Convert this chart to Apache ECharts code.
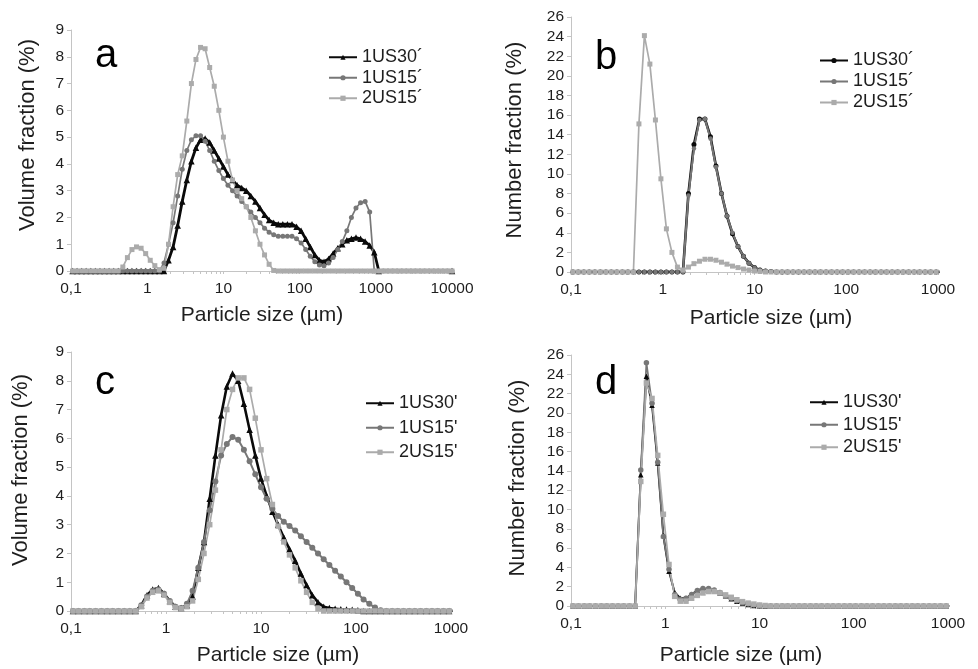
<!DOCTYPE html>
<html>
<head>
<meta charset="utf-8">
<script src="https://cdn.jsdelivr.net/npm/echarts@6/dist/echarts.min.js"></script>
<style>
  html, body { margin: 0; padding: 0; background: #fff; }
  #chart { width: 978px; height: 669px; }
</style>
</head>
<body>
<div id="chart"></div>
<script>
"use strict";

// particle size classes (µm), 0.06 decade steps
var sizes = [
  0.105, 0.120, 0.138, 0.158, 0.182, 0.209, 0.240, 0.275, 0.316, 0.363,
  0.417, 0.479, 0.550, 0.631, 0.724, 0.832, 0.955, 1.096, 1.259, 1.445,
  1.660, 1.905, 2.188, 2.512, 2.884, 3.311, 3.802, 4.365, 5.012, 5.754,
  6.607, 7.586, 8.710, 10.00, 11.48, 13.18, 15.14, 17.38, 19.95, 22.91,
  26.30, 30.20, 34.67, 39.81, 45.71, 52.48, 60.26, 69.18, 79.43, 91.20,
  104.7, 120.2, 138.0, 158.5, 182.0, 208.9, 239.9, 275.4, 316.2, 363.1,
  416.9, 478.6, 549.5, 631.0, 724.4, 831.8, 955.0, 1096, 1259, 1445,
  1660, 1905, 2188, 2512, 2884, 3311, 3802, 4365, 5012, 5754,
  6607, 7586, 8710, 10000
];

// panel a - volume fraction
var a30 = [
  0, 0, 0, 0, 0, 0, 0, 0, 0, 0,
  0, 0, 0, 0, 0, 0, 0, 0, 0, 0,
  0, 0.4, 0.9, 1.7, 2.6, 3.4, 4.1, 4.6, 4.9, 4.95,
  4.8, 4.5, 4.2, 3.9, 3.6, 3.4, 3.2, 3.1, 3.0, 2.8,
  2.6, 2.35, 2.1, 1.9, 1.8, 1.75, 1.75, 1.75, 1.75, 1.65,
  1.5, 1.2, 0.9, 0.6, 0.4, 0.35, 0.45, 0.65, 0.85, 1.0,
  1.15, 1.2, 1.25, 1.2, 1.1, 0.95, 0.7, 0, null, null,
  null, null, null, null, null, null, null, null, null, null,
  null, null, null, 0
];
var a15 = [
  0, 0, 0, 0, 0, 0, 0, 0, 0, 0,
  0, 0, 0, 0, 0, 0, 0, 0, 0, 0,
  0.3, 1.0, 1.8, 2.8, 3.8, 4.5, 4.9, 5.05, 5.05, 4.85,
  4.5, 4.1, 3.75, 3.45, 3.2, 3.0, 2.8, 2.6, 2.4, 2.2,
  2.0, 1.8, 1.6, 1.45, 1.35, 1.3, 1.3, 1.3, 1.3, 1.2,
  1.05, 0.8, 0.55, 0.35, 0.22, 0.2, 0.3, 0.5, 0.8, 1.1,
  1.5, 2.0, 2.35, 2.55, 2.6, 2.2, 0, 0, 0, 0,
  0, 0, 0, 0, 0, 0, 0, 0, 0, 0,
  0, 0, 0, 0
];
var a215 = [
  0, 0, 0, 0, 0, 0, 0, 0, 0, 0,
  0, 0.15, 0.5, 0.8, 0.9, 0.85, 0.65, 0.4, 0.2, 0.05,
  0.1, 1.0, 2.4, 3.6, 4.3, 5.6, 7.0, 7.9, 8.35, 8.3,
  7.6, 6.9, 6.0, 5.0, 4.1, 3.4, 3.0, 2.7, 2.4, 2.0,
  1.5, 1.0, 0.6, 0.25, 0.02, 0, 0, 0, 0, 0,
  0, 0, 0, 0, 0, 0, 0, 0, 0, 0,
  0, 0, 0, 0, 0, 0, 0, 0, 0, 0,
  0, 0, 0, 0, 0, 0, 0, 0, 0, 0,
  0, 0, 0, 0
];

// panel b - number fraction
var b30 = [
  0, 0, 0, 0, 0, 0, 0, 0, 0, 0,
  0, 0, 0, 0, 0, 0, 0, 0, 0, 0,
  0, 8.0, 13.0, 15.6, 15.6, 13.8, 10.8, 8.0, 5.7, 3.9,
  2.6, 1.6, 0.9, 0.45, 0.2, 0.1, 0.05, 0, 0, 0,
  0, 0, 0, 0, 0, 0, 0, 0, 0, 0,
  0, 0, 0, 0, 0, 0, 0, 0, 0, 0,
  0, 0, 0, 0, 0, 0, 0, 0
];
var b15 = [
  0, 0, 0, 0, 0, 0, 0, 0, 0, 0,
  0, 0, 0, 0, 0, 0, 0, 0, 0, 0,
  0, 7.8, 12.6, 15.5, 15.6, 13.6, 10.7, 8.0, 5.7, 4.0,
  2.6, 1.6, 0.9, 0.45, 0.2, 0.1, 0.05, 0, 0, 0,
  0, 0, 0, 0, 0, 0, 0, 0, 0, 0,
  0, 0, 0, 0, 0, 0, 0, 0, 0, 0,
  0, 0, 0, 0, 0, 0, 0, 0
];
var b215 = [
  0, 0, 0, 0, 0, 0, 0, 0, 0, 0,
  0, 0, 15.1, 24.1, 21.2, 15.5, 9.5, 4.4, 2.0, 0.5,
  0.2, 0.5, 0.85, 1.1, 1.3, 1.3, 1.2, 1.0, 0.8, 0.6,
  0.45, 0.3, 0.2, 0.1, 0.05, 0, 0, 0, 0, 0,
  0, 0, 0, 0, 0, 0, 0, 0, 0, 0,
  0, 0, 0, 0, 0, 0, 0, 0, 0, 0,
  0, 0, 0, 0, 0, 0, 0, 0
];

// panel c - volume fraction
var c30 = [
  0, 0, 0, 0, 0, 0, 0, 0, 0, 0,
  0, 0, 0.2, 0.55, 0.75, 0.8, 0.6, 0.35, 0.15, 0.1,
  0.2, 0.5, 1.5, 2.4, 3.9, 5.4, 6.8, 7.8, 8.25, 8.0,
  7.2, 6.3, 5.4, 4.6, 4.0, 3.45, 3.0, 2.55, 2.15, 1.75,
  1.3, 0.9, 0.55, 0.3, 0.15, 0.1, 0.08, 0.06, 0.05, 0.04,
  0.03, 0, 0, 0, 0, 0, 0, 0, 0, 0,
  0, 0, 0, 0, 0, 0, 0, 0
];
var c15 = [
  0, 0, 0, 0, 0, 0, 0, 0, 0, 0,
  0, 0, 0.2, 0.5, 0.7, 0.75, 0.6, 0.35, 0.15, 0.1,
  0.25, 0.7, 1.5, 2.4, 3.5, 4.5, 5.4, 5.8, 6.05, 5.95,
  5.6, 5.2, 4.75, 4.3, 3.9, 3.55, 3.3, 3.1, 2.95, 2.8,
  2.6, 2.4, 2.2, 2.0, 1.8, 1.6, 1.4, 1.2, 1.0, 0.8,
  0.6, 0.4, 0.25, 0.12, 0.03, 0, 0, 0, 0, 0,
  0, 0, 0, 0, 0, 0, 0, 0
];
var c215 = [
  0, 0, 0, 0, 0, 0, 0, 0, 0, 0,
  0, 0, 0.15, 0.45, 0.65, 0.7, 0.55, 0.3, 0.12, 0.08,
  0.15, 0.35, 1.1, 2.0, 3.0, 4.2, 5.6, 7.0, 7.7, 8.1,
  8.1, 7.7, 6.7, 5.6, 4.6, 3.7, 2.95, 2.4, 1.95, 1.5,
  1.05, 0.65, 0.3, 0.08, 0, 0, 0, 0, 0, 0,
  0, 0, 0, 0, 0, 0, 0, 0, 0, 0,
  0, 0, 0, 0, 0, 0, 0, 0
];

// panel d - number fraction
var d30 = [
  0, 0, 0, 0, 0, 0, 0, 0, 0, 0,
  0, 0, 13.6, 23.8, 20.8, 14.8, 7.3, 3.6, 1.4, 0.8,
  0.8, 1.2, 1.6, 1.8, 1.75, 1.6, 1.35, 1.05, 0.75, 0.5,
  0.3, 0.15, 0.05, 0.02, 0, 0, 0, 0, 0, 0,
  0, 0, 0, 0, 0, 0, 0, 0, 0, 0,
  0, 0, 0, 0, 0, 0, 0, 0, 0, 0,
  0, 0, 0, 0, 0, 0, 0, 0
];
var d15 = [
  0, 0, 0, 0, 0, 0, 0, 0, 0, 0,
  0, 0, 14.1, 25.2, 21.0, 14.9, 7.2, 3.8, 1.2, 0.7,
  0.8, 1.2, 1.6, 1.8, 1.8, 1.65, 1.4, 1.1, 0.8, 0.55,
  0.35, 0.2, 0.1, 0.05, 0, 0, 0, 0, 0, 0,
  0, 0, 0, 0, 0, 0, 0, 0, 0, 0,
  0, 0, 0, 0, 0, 0, 0, 0, 0, 0,
  0, 0, 0, 0, 0, 0, 0, 0
];
var d215 = [
  0, 0, 0, 0, 0, 0, 0, 0, 0, 0,
  0, 0, 12.9, 23.1, 21.5, 15.6, 9.5, 4.3, 1.0, 0.5,
  0.5, 0.8, 1.1, 1.35, 1.5, 1.5, 1.35, 1.15, 0.9, 0.65,
  0.45, 0.3, 0.2, 0.1, 0.05, 0, 0, 0, 0, 0,
  0, 0, 0, 0, 0, 0, 0, 0, 0, 0,
  0, 0, 0, 0, 0, 0, 0, 0, 0, 0,
  0, 0, 0, 0, 0, 0, 0, 0
];

// axis tick labels
var xTicksA = [0.1, 1, 10, 100, 1000, 10000];
var xTicksB = [0.1, 1, 10, 100, 1000];

var FONT = '"Liberation Sans", Arial, sans-serif';
var TXT = '#1e1e1e';
var AXIS = '#c4c4c4';
var C1 = '#0a0a0a', C2 = '#777777', C3 = '#ababab';

var panels = [
  {
    letter: 'a', letterPos: [95, 76],
    grid: { left: 71, top: 30, width: 381, height: 241 },
    xTicks: xTicksA, yMax: 9, yStep: 1,
    yTitle: 'Volume fraction (%)', yTitlePos: [28, 135], xTitlePos: [262, 315],
    legend: { left: 323, top: 42, row: 20.5 },
    series: [
      { name: '1US30´', data: a30, color: C1, width: 2.8, symbol: 'triangle', size: 6.5 },
      { name: '1US15´', data: a15, color: C2, width: 1.7, symbol: 'circle', size: 5 },
      { name: '2US15´', data: a215, color: C3, width: 1.7, symbol: 'rect', size: 5 }
    ]
  },
  {
    letter: 'b', letterPos: [595, 78],
    grid: { left: 571, top: 17, width: 367, height: 255 },
    xTicks: xTicksB, yMax: 26, yStep: 2,
    yTitle: 'Number fraction (%)', yTitlePos: [515, 140], xTitlePos: [771, 318],
    legend: { left: 814, top: 45, row: 21 },
    series: [
      { name: '1US30´ ', data: b30, color: C1, width: 2.6, symbol: 'circle', size: 5 },
      { name: '1US15´ ', data: b15, color: C2, width: 2, symbol: 'circle', size: 4.5 },
      { name: '2US15´ ', data: b215, color: C3, width: 1.7, symbol: 'rect', size: 5 }
    ]
  },
  {
    letter: 'c', letterPos: [95, 403],
    grid: { left: 71, top: 352, width: 380, height: 259 },
    xTicks: xTicksB, yMax: 9, yStep: 1,
    yTitle: 'Volume fraction (%)', yTitlePos: [21, 470], xTitlePos: [278, 655],
    legend: { left: 360, top: 386, row: 24.5 },
    series: [
      { name: "1US30'", data: c30, color: C1, width: 2.6, symbol: 'triangle', size: 6.5 },
      { name: "1US15'", data: c15, color: C2, width: 2, symbol: 'circle', size: 6 },
      { name: "2US15'", data: c215, color: C3, width: 1.7, symbol: 'rect', size: 5.5 }
    ]
  },
  {
    letter: 'd', letterPos: [595, 403],
    grid: { left: 571, top: 355, width: 377, height: 251 },
    xTicks: xTicksB, yMax: 26, yStep: 2,
    yTitle: 'Number fraction (%)', yTitlePos: [518, 478], xTitlePos: [741, 655],
    legend: { left: 804, top: 386, row: 22.5 },
    series: [
      { name: "1US30' ", data: d30, color: C1, width: 2, symbol: 'triangle', size: 5.5 },
      { name: "1US15' ", data: d15, color: C2, width: 1.7, symbol: 'circle', size: 5.5 },
      { name: "2US15' ", data: d215, color: C3, width: 1.7, symbol: 'rect', size: 5.5 }
    ]
  }
];

function toPairs(ys) {
  var out = [];
  for (var i = 0; i < ys.length; i++) {
    out.push([sizes[i], ys[i] === null ? '-' : ys[i]]);
  }
  return out;
}

// log minor ticks 1..9 within each decade
function minorTicks(majors) {
  var out = [];
  for (var i = 0; i < majors.length - 1; i++) {
    for (var k = 1; k < 10; k++) out.push(+(majors[i] * k).toPrecision(6));
  }
  out.push(majors[majors.length - 1]);
  return out;
}

var option = {
  animation: false,
  backgroundColor: '#fff',
  textStyle: { fontFamily: FONT },
  grid: [], xAxis: [], yAxis: [], series: [], legend: [], graphic: []
};

panels.forEach(function (p, i) {
  option.grid.push(p.grid);
  option.xAxis.push({
    type: 'log', logBase: 10, gridIndex: i,
    min: p.xTicks[0], max: p.xTicks[p.xTicks.length - 1],
    axisLine: { lineStyle: { color: AXIS, width: 1 } },
    axisTick: { show: true, customValues: minorTicks(p.xTicks), length: 3, lineStyle: { color: AXIS } },
    axisLabel: {
      customValues: p.xTicks, showMinLabel: true, showMaxLabel: true,
      fontSize: 15.5, color: TXT, fontFamily: FONT, margin: 10,
      formatter: function (v) { return String(v).replace('.', ','); }
    },
    splitLine: { show: false }
  });
  option.yAxis.push({
    type: 'value', gridIndex: i, min: 0, max: p.yMax, interval: p.yStep,
    axisLine: { show: true, lineStyle: { color: AXIS, width: 1 } },
    axisTick: { show: true, length: 4, lineStyle: { color: AXIS } },
    axisLabel: { fontSize: 15.5, color: TXT, fontFamily: FONT, margin: 7 },
    splitLine: { show: false }
  });
  p.series.forEach(function (s) {
    option.series.push({
      type: 'line', name: s.name, xAxisIndex: i, yAxisIndex: i,
      data: toPairs(s.data),
      symbol: s.symbol, symbolSize: s.size, showAllSymbol: true,
      connectNulls: false, clip: true,
      lineStyle: { color: s.color, width: s.width },
      itemStyle: { color: s.color }
    });
  });
  option.legend.push({
    orient: 'vertical', left: p.legend.left, top: p.legend.top,
    itemWidth: 28, itemHeight: 6.5, itemGap: 0, selectedMode: false,
    textStyle: { fontSize: 18, color: TXT, fontFamily: FONT, lineHeight: p.legend.row },
    data: p.series.map(function (s) { return s.name; })
  });
  option.graphic.push({
    type: 'text', x: p.letterPos[0], y: p.letterPos[1],
    style: { text: p.letter, fontSize: 40, fontFamily: FONT, fill: '#000', align: 'left', verticalAlign: 'bottom' }
  });
  option.graphic.push({
    type: 'text', x: p.yTitlePos[0], y: p.yTitlePos[1], rotation: Math.PI / 2,
    style: { text: p.yTitle, fontSize: 22, fontFamily: FONT, fill: TXT, align: 'center', verticalAlign: 'middle' }
  });
  option.graphic.push({
    type: 'text', x: p.xTitlePos[0], y: p.xTitlePos[1],
    style: { text: 'Particle size (µm)', fontSize: 21, fontFamily: FONT, fill: TXT, align: 'center', verticalAlign: 'middle' }
  });
});

var myChart = echarts.init(document.getElementById('chart'), null, { renderer: 'canvas' });
myChart.setOption(option);
</script>
</body>
</html>
